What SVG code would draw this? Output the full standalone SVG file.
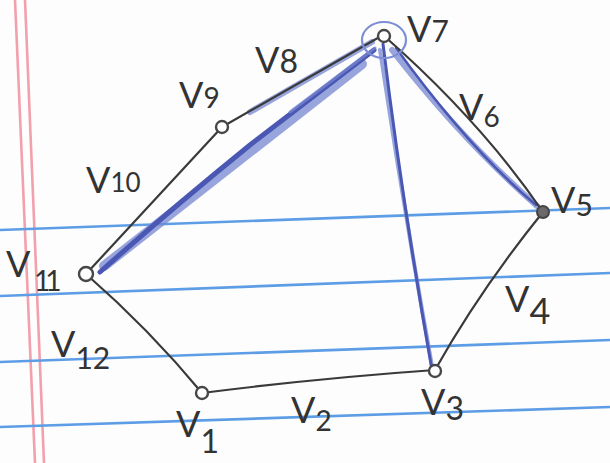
<svg xmlns="http://www.w3.org/2000/svg" width="610" height="463" viewBox="0 0 610 463">
<style>
.paper{stroke:#5d9de6;stroke-width:2.6;fill:none}
.margin{stroke:#f3a0ad;stroke-width:2.6;fill:none}
.ink{stroke:#3a3a3a;stroke-width:2.2;fill:none;stroke-linecap:round}
.blue{stroke:#4a58b4;fill:none;stroke-linecap:round}
.shade{stroke:#7686d0;fill:none;stroke-linecap:round;opacity:0.75}
.node{stroke:#474747;stroke-width:2.4;fill:#fff}
.lbl{font-family:Lato,"Liberation Sans",sans-serif;font-weight:400;fill:#333;font-size:36px}
</style>
<rect width="610" height="463" fill="#fdfdfd"/>
<g id="paper">
<line class="margin" x1="15" y1="0" x2="35" y2="463"/>
<line class="margin" x1="25" y1="0" x2="44" y2="463"/>
<line class="paper" x1="0" y1="230" x2="610" y2="208"/>
<line class="paper" x1="0" y1="296" x2="610" y2="273"/>
<line class="paper" x1="0" y1="362" x2="610" y2="340"/>
<line class="paper" x1="0" y1="427" x2="610" y2="407"/>
</g>
<g id="connectors">
<path class="shade" d="M362,64 Q240,160 104,266" stroke-width="10"/>
<path class="blue" d="M374,50 L250,145 Q170,210 100,272" stroke-width="5"/>
<path class="shade" d="M375,48 L290,112" stroke-width="3"/>
<path class="shade" d="M392,50 Q462,140 537,206" stroke-width="6"/>
<path class="blue" d="M396,48 Q470,150 536,205" stroke-width="2.5"/>
<path class="shade" d="M380,50 Q404,210 432,366" stroke-width="4"/>
<path class="blue" d="M383,44 Q402,200 432,370" stroke-width="3"/>
<path class="shade" d="M250,112 L372,42" stroke-width="6"/>
<path class="ink" d="M222,127 L383,35" stroke-width="3"/>
<path class="ink" d="M222,127 L86,274"/>
<path class="ink" d="M86,274 Q150,330 202,393"/>
<path class="ink" d="M202,393 Q320,378 435,370"/>
<path class="ink" d="M435,370 Q480,290 543,212"/>
<path class="ink" d="M383,35 Q480,120 543,212"/>
</g>
<g id="v7">
<ellipse cx="384" cy="40" rx="22" ry="18" fill="none" stroke="#7d8ed6" stroke-width="2.2"/>
<circle class="node" cx="384" cy="36" r="6"/>
<text class="lbl" x="407" y="42">V<tspan font-size="30">7</tspan></text>
</g>
<g id="v8">
<text class="lbl" x="255" y="73">V<tspan font-size="32">8</tspan></text>
</g>
<g id="v9">
<circle class="node" cx="222" cy="127" r="6"/>
<text class="lbl" x="179" y="108">V<tspan font-size="28">9</tspan></text>
</g>
<g id="v10">
<text class="lbl" x="86" y="193">V<tspan font-size="26" dy="-1">10</tspan></text>
</g>
<g id="v11">
<circle class="node" cx="86" cy="274" r="7"/>
<text class="lbl" x="6" y="277">V<tspan font-size="28" x="34" dy="14" letter-spacing="-5">11</tspan></text>
</g>
<g id="v12">
<text class="lbl" x="51" y="357">V<tspan font-size="30" dy="12">12</tspan></text>
</g>
<g id="v1">
<circle class="node" cx="202" cy="393" r="6"/>
<text class="lbl" x="176" y="437">V<tspan font-size="32" dy="16">1</tspan></text>
</g>
<g id="v2">
<text class="lbl" x="291" y="423">V<tspan font-size="28" dy="8">2</tspan></text>
</g>
<g id="v3">
<circle class="node" cx="435" cy="371" r="6"/>
<text class="lbl" x="421" y="415">V<tspan font-size="32" dy="5">3</tspan></text>
</g>
<g id="v4">
<text class="lbl" x="505" y="312">V<tspan font-size="36" dy="12">4</tspan></text>
</g>
<g id="v5">
<circle cx="543" cy="212" r="6" fill="#6a6a6a" stroke="#444" stroke-width="2"/>
<text class="lbl" x="551" y="213">V<tspan font-size="30" dy="3">5</tspan></text>
</g>
<g id="v6">
<text class="lbl" x="459" y="120">V<tspan font-size="28" dy="7">6</tspan></text>
</g>
</svg>
